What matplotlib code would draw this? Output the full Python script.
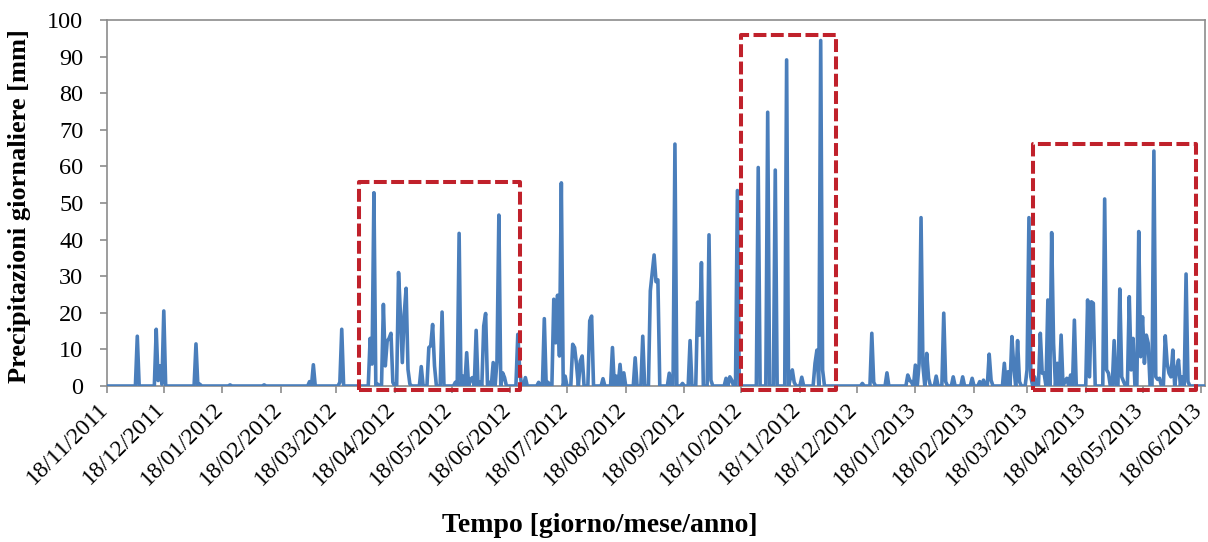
import datetime as dt
import numpy as np
import matplotlib
matplotlib.use('Agg')
import matplotlib.pyplot as plt
import matplotlib.dates as mdates
import matplotlib.patches as mpatches
import matplotlib.transforms as mtransforms

plt.rcParams['font.family'] = ['Liberation Serif', 'DejaVu Serif']

# daily precipitation, only rainy days listed (days counted from 18/11/2011)
start_date = dt.date(2011, 11, 18)
n_days = 582

rain_day = [16, 26, 27, 28, 29, 30, 47, 49, 65, 83, 107, 109, 123, 124,
            139, 140, 141, 143, 146, 147, 148, 149, 150, 151, 154, 155, 156, 157, 158, 159, 160,
            166, 170, 171, 172, 173, 177, 184, 186, 188, 190, 192, 193, 195, 197, 199, 200,
            202, 204, 206, 207, 209, 210, 217, 218, 221, 228, 231, 233, 236, 237, 238, 239, 240,
            242, 246, 247, 248, 250, 251, 255, 256, 262, 267, 269, 271, 273, 279, 283,
            287, 288, 289, 290, 291, 297, 300, 304, 308, 312, 313, 314, 318, 319, 327, 329, 330,
            333, 344, 349, 353, 359, 361, 362, 363, 367, 374, 375, 377, 378,
            399, 404, 405, 412, 423, 424, 425, 427, 429, 430, 431, 433, 434, 438, 442, 443,
            447, 452, 457, 461, 463, 466, 467, 474, 476, 478, 479, 481, 482, 486, 487, 488, 490,
            493, 494, 495, 497, 499, 500, 502, 504, 506, 507, 509, 511, 518, 519, 520, 521,
            527, 528, 529, 532, 535, 536, 537, 540, 541, 542, 545, 546, 547, 548, 549, 550,
            553, 554, 555, 556, 559, 560, 561, 562, 563, 565, 566, 568, 570, 571]
rain_mm = [13.6, 15.5, 1.5, 5.5, 0.5, 20.5, 11.5, 0.5, 0.3, 0.3, 1.2, 5.8, 1.0, 15.5,
           13.0, 6.0, 52.8, 0.5, 22.3, 5.5, 12.3, 13.0, 14.4, 1.0, 31.0, 19.6, 6.4, 19.6, 26.7, 4.5, 0.5,
           5.3, 10.5, 11.0, 16.8, 5.5, 20.2, 1.0, 41.7, 2.7, 9.1, 1.8, 2.3, 15.2, 1.0, 16.4, 19.8,
           1.0, 6.4, 6.8, 46.7, 3.6, 2.3, 14.1, 4.5, 2.3, 1.0, 18.4, 1.0, 23.7, 11.8, 24.8, 8.2, 55.5,
           2.7, 11.4, 10.5, 5.9, 6.8, 8.2, 17.8, 19.1, 2.0, 10.5, 2.7, 5.9, 3.6, 7.7, 13.6,
           26.0, 31.0, 35.8, 28.5, 29.0, 3.5, 66.1, 0.7, 12.4, 22.9, 13.9, 33.7, 41.3, 1.6, 2.1, 2.5, 1.6,
           53.4, 59.7, 74.8, 59.0, 89.1, 2.1, 4.4, 1.0, 2.4, 6.2, 9.8, 94.4, 4.4,
           0.7, 14.4, 1.0, 3.6, 3.0, 1.6, 1.0, 5.7, 6.2, 46.0, 5.5, 8.9, 2.1, 2.7, 19.9, 1.2,
           2.5, 2.5, 2.1, 1.2, 1.6, 8.7, 1.6, 6.2, 3.9, 13.5, 5.3, 12.4, 1.2, 4.4, 46.0, 2.5, 2.5,
           14.4, 3.5, 3.5, 23.5, 41.9, 11.7, 6.2, 13.9, 1.2, 2.1, 3.0, 18.0, 23.5, 2.5, 23.0, 22.6,
           51.1, 4.4, 3.5, 12.4, 26.5, 2.5, 1.2, 24.4, 4.4, 13.0, 42.2, 8.0, 18.9, 6.2, 13.9, 11.7,
           64.2, 2.5, 1.8, 2.1, 13.7, 6.2, 3.5, 2.5, 9.8, 4.4, 7.1, 2.5, 30.6, 1.2]

tick_labels = ['18/11/2011', '18/12/2011', '18/01/2012', '18/02/2012', '18/03/2012',
               '18/04/2012', '18/05/2012', '18/06/2012', '18/07/2012', '18/08/2012',
               '18/09/2012', '18/10/2012', '18/11/2012', '18/12/2012', '18/01/2013',
               '18/02/2013', '18/03/2013', '18/04/2013', '18/05/2013', '18/06/2013']

# highlighted periods: (first date, last date, top value)
box_start = ['2012-03-30', '2012-10-18', '2013-03-21']
box_end = ['2012-06-23', '2012-12-07', '2013-06-15']
box_top = [55.7, 96.0, 66.2]

dates = [start_date + dt.timedelta(days=i) for i in range(n_days)]
precip = np.zeros(n_days)
precip[rain_day] = rain_mm

fig = plt.figure(figsize=(12.08, 5.42), dpi=100)
ax = fig.add_axes([107 / 1208, 156 / 542, 1098 / 1208, 366 / 542])

ax.plot(dates, precip, color='#4a7ebb', lw=2.6, solid_joinstyle='round', zorder=3)

x0 = mdates.date2num(start_date)
ax.set_xlim(x0, x0 + 580)
ax.set_ylim(0, 100)
ax.set_yticks(np.arange(0, 101, 10))

tick_pos = [mdates.date2num(dt.datetime.strptime(s, '%d/%m/%Y')) for s in tick_labels]
ax.set_xticks(tick_pos)
ax.set_xticklabels(tick_labels, rotation=45, ha='right', va='top')

for sp in ax.spines.values():
    sp.set_color('#8c8c8c')
    sp.set_linewidth(1.2)
ax.tick_params(axis='both', direction='out', length=5, width=1.2, color='#8c8c8c',
               labelsize=17.5, labelcolor='black')
ax.tick_params(axis='x', labelsize=17, pad=4)
ax.tick_params(axis='y', pad=12)

# nudge rotated date labels a little to the right, as in the original
shift = mtransforms.ScaledTranslation(5 / 100, 0, fig.dpi_scale_trans)
for lab in ax.get_xticklabels():
    lab.set_transform(lab.get_transform() + shift)

for s, e, top in zip(box_start, box_end, box_top):
    xs = mdates.date2num(dt.datetime.strptime(s, '%Y-%m-%d'))
    xe = mdates.date2num(dt.datetime.strptime(e, '%Y-%m-%d'))
    rect = mpatches.Rectangle((xs, -1.2), xe - xs, top + 1.2, fill=False,
                              edgecolor='#c0212b', lw=2.9, linestyle=(0, (3.2, 1.1)),
                              joinstyle='round', clip_on=False, zorder=4)
    ax.add_patch(rect)

fig.text(20 / 1208, 0.5 + (542 / 2 - 206) / 542, 'Precipitazioni giornaliere [mm]',
         rotation=90, ha='center', va='center', fontsize=19, fontweight='bold')
fig.text(600 / 1208, 1 - 525 / 542, 'Tempo [giorno/mese/anno]',
         ha='center', va='center', fontsize=20, fontweight='bold')

plt.savefig('out.png', dpi=100)
plt.close(fig)
